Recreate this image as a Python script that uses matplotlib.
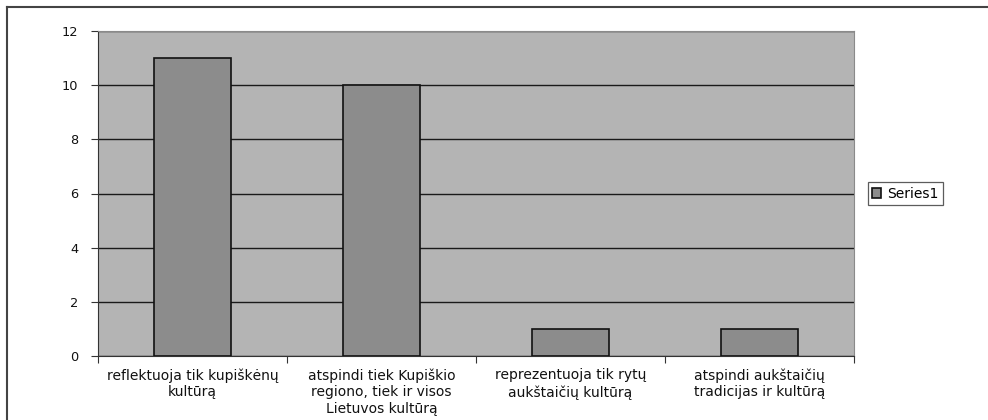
import matplotlib as mpl
mpl.use("Agg")
import matplotlib.pyplot as plt
from matplotlib.lines import Line2D
import numpy as np

categories = ["reflektuoja tik kupiškėnų\nkultūrą",
              "atspindi tiek Kupiškio\nregiono, tiek ir visos\nLietuvos kultūrą",
              "reprezentuoja tik rytų\naukštaičių kultūrą",
              "atspindi aukštaičių\ntradicijas ir kultūrą"]
series1 = [11, 10, 1, 1]
yticks = [0, 2, 4, 6, 8, 10, 12]

plt.rcParams["font.family"] = ["DejaVu Sans"]

fig = plt.figure(figsize=(9.88, 4.2), dpi=100)
ax = fig.add_axes([98 / 988, 64 / 420, 756 / 988, 325 / 420])
ax.set_facecolor("#b4b4b4")

x = np.arange(len(categories))
ax.bar(x, series1, width=0.41, color="#8c8c8c", edgecolor="#111111",
       linewidth=1.2, label="Series1", zorder=3)

ax.set_xlim(-0.5, len(categories) - 0.5)
ax.set_ylim(0, 12)
ax.set_yticks(yticks)
ax.yaxis.grid(True, color="#1a1a1a", linewidth=1.0, zorder=1)
ax.set_axisbelow(True)

# category labels centred, ticks on the boundaries
ax.set_xticks(np.arange(-0.5, len(categories)), minor=False)
ax.set_xticklabels([])
ax.set_xticks(x, minor=True)
ax.set_xticklabels(categories, minor=True, fontsize=10, linespacing=1.22,
                   color="#111111")
ax.tick_params(axis="x", which="minor", length=0, pad=9)
ax.tick_params(axis="x", which="major", length=5, color="#333333")
ax.tick_params(axis="y", length=5, color="#333333", labelsize=9.3, pad=9,
               labelcolor="#111111")

for side in ["left", "bottom"]:
    ax.spines[side].set_color("#333333")
for side in ["top", "right"]:
    ax.spines[side].set_color("#8a8a8a")

leg = ax.legend(loc="center left", bbox_to_anchor=(1.018, 0.5), fontsize=10,
                frameon=True, fancybox=False, edgecolor="#333333",
                handlelength=0.7, handleheight=0.7, handletextpad=0.4,
                borderpad=0.3, borderaxespad=0)
leg.get_frame().set_linewidth(0.9)

# outer chart frame (only top and left edges visible)
fig.add_artist(Line2D([7 / 988, 1.0], [1 - 7 / 420, 1 - 7 / 420],
                      color="#444444", linewidth=1.5))
fig.add_artist(Line2D([7 / 988, 7 / 988], [0, 1 - 7 / 420],
                      color="#444444", linewidth=1.5))

fig.savefig("out.png", dpi=100)
plt.close()
